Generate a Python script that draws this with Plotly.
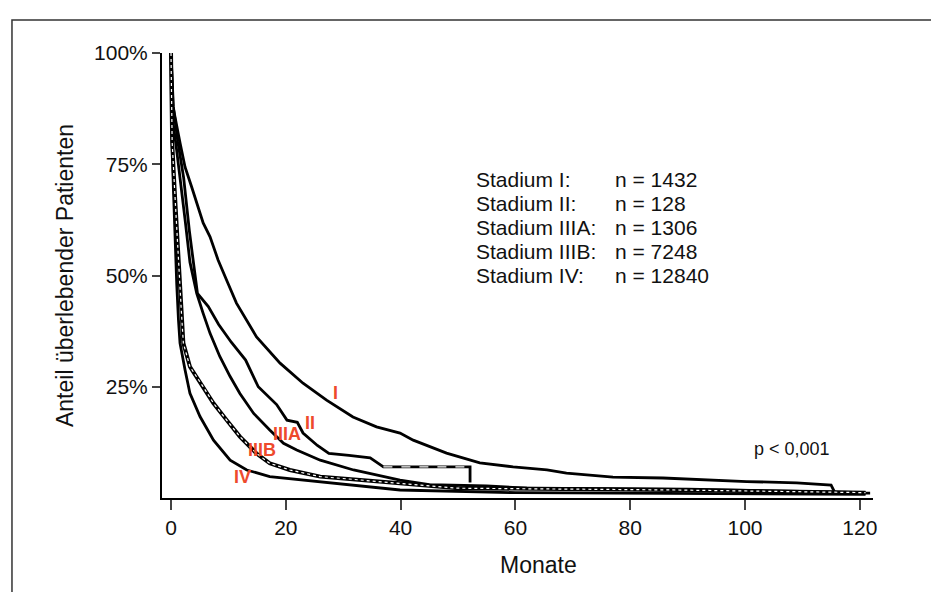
import plotly.graph_objects as go

# Kaplan-Meier Kurven (Monate, Anteil)
monate_I = [0, 0.35, 1.57, 2.44, 3.6, 4.7, 5.6, 6.8, 8.2, 9.9, 11.4, 14.9, 19.0, 23.0, 27.1, 31.7,
            35.8, 39.9, 42.2, 48.0, 53.8, 59.6, 65.5, 68.9, 77.0, 85.7, 94.4, 100.3, 109.0, 115.0,
            115.7, 121.8]
anteil_I = [1.0, 0.879, 0.798, 0.744, 0.699, 0.654, 0.618, 0.587, 0.535, 0.483, 0.438, 0.362, 0.303,
            0.258, 0.220, 0.182, 0.160, 0.146, 0.130, 0.101, 0.079, 0.070, 0.063, 0.056, 0.047, 0.045,
            0.040, 0.037, 0.034, 0.029, 0.011, 0.011]

monate_II = [0, 0.4, 1.2, 2.2, 3.2, 4.6, 6.5, 8.3, 10.5, 13.0, 15.2, 18.4, 20.2, 22.0, 23.0, 25.5,
             27.5, 31.0, 34.7, 37.0, 52.1, 52.1]
anteil_II = [1.0, 0.88, 0.80, 0.72, 0.60, 0.46, 0.43, 0.39, 0.35, 0.31, 0.25, 0.21, 0.175, 0.17,
             0.146, 0.118, 0.10, 0.096, 0.09, 0.07, 0.07, 0.035]

monate_IIIA = [0, 0.3, 1.0, 1.8, 2.5, 3.3, 4.48, 5.6, 6.8, 8.5, 10.3, 12.0, 14.4, 17.2, 19.6, 21.9,
               26.0, 31.8, 39.9, 45.0, 55.0, 62.0, 90.0, 121.0]
anteil_IIIA = [1.0, 0.85, 0.78, 0.70, 0.62, 0.53, 0.46, 0.415, 0.37, 0.318, 0.273, 0.235, 0.19, 0.153,
               0.123, 0.108, 0.085, 0.063, 0.04, 0.03, 0.027, 0.022, 0.02, 0.012]

monate_IIIB = [0, 0.2, 0.6, 1.0, 1.5, 1.8, 2.15, 3.3, 5.6, 7.4, 9.7, 12.0, 14.9, 17.2, 20.7, 26.0,
               39.9, 50.0, 88.0, 121.0]
anteil_IIIB = [1.0, 0.80, 0.70, 0.60, 0.50, 0.42, 0.348, 0.295, 0.25, 0.213, 0.175, 0.138, 0.10,
               0.078, 0.063, 0.048, 0.033, 0.022, 0.018, 0.012]

monate_IV = [0, 0.1, 0.4, 0.7, 1.0, 1.3, 1.57, 2.44, 3.3, 5.05, 7.4, 10.3, 13.2, 17.2, 23.0, 39.9,
             60.0, 121.0]
anteil_IV = [1.0, 0.85, 0.70, 0.58, 0.48, 0.40, 0.348, 0.288, 0.235, 0.183, 0.13, 0.085, 0.063,
             0.048, 0.04, 0.018, 0.012, 0.008]

stadien = ["Stadium I:", "Stadium II:", "Stadium IIIA:", "Stadium IIIB:", "Stadium IV:"]
fallzahlen = ["n = 1432", "n = 128", "n = 1306", "n = 7248", "n = 12840"]

x_ticks = [0, 20, 40, 60, 80, 100, 120]
y_ticks = [0.25, 0.5, 0.75, 1.0]
y_ticklabels = ["25%", "50%", "75%", "100%"]

FONT = "Liberation Sans, Arial, sans-serif"
ROT = "#ee4a2c"

fig = go.Figure()

kurven = [(monate_I, anteil_I), (monate_II, anteil_II), (monate_IIIA, anteil_IIIA),
          (monate_IV, anteil_IV)]
for mx, ay in kurven:
    fig.add_trace(go.Scatter(x=mx, y=ay, mode="lines", line=dict(color="black", width=2.8),
                             showlegend=False, hoverinfo="skip"))

# zensierte Abschnitte: schwarz mit hellen Punkten
fig.add_trace(go.Scatter(x=monate_IIIB, y=anteil_IIIB, mode="lines",
                         line=dict(color="black", width=4),
                         showlegend=False, hoverinfo="skip"))
fig.add_trace(go.Scatter(x=monate_IIIB, y=anteil_IIIB, mode="lines",
                         line=dict(color="white", width=1.2, dash="dot"),
                         showlegend=False, hoverinfo="skip"))
fig.add_trace(go.Scatter(x=monate_II[-3:-1], y=anteil_II[-3:-1], mode="lines",
                         line=dict(color="white", width=1.2, dash="dash"),
                         showlegend=False, hoverinfo="skip"))

# Beschriftung der Kurven
etiketten = [("I", 28.6, 0.236), ("II", 24.2, 0.169), ("IIIA", 20.2, 0.144),
             ("IIIB", 15.9, 0.108), ("IV", 12.5, 0.047)]
for txt, ex, ey in etiketten:
    fig.add_annotation(x=ex, y=ey, text="<b>" + txt + "</b>", showarrow=False,
                       font=dict(family=FONT, size=18, color=ROT))

zeilen_y = [0.715, 0.661, 0.607, 0.553, 0.499]
for i in range(len(stadien)):
    fig.add_annotation(x=52.8, y=zeilen_y[i], text=stadien[i], showarrow=False, xanchor="left",
                       font=dict(family=FONT, size=21, color="#111"))
    fig.add_annotation(x=77.0, y=zeilen_y[i], text=fallzahlen[i], showarrow=False, xanchor="left",
                       font=dict(family=FONT, size=21, color="#111"))

fig.add_annotation(x=101.2, y=0.11, text="p < 0,001", showarrow=False, xanchor="left",
                   font=dict(family=FONT, size=18, color="#111"))

# x-Achsentitel (im Original leicht rechts der Mitte)
fig.add_annotation(x=0.529, y=-0.151, xref="paper", yref="paper", text="Monate", showarrow=False,
                   xanchor="center", yanchor="middle",
                   font=dict(family=FONT, size=23, color="#111"))

# Rahmen um die Abbildung
fig.add_shape(type="rect", xref="paper", yref="paper", x0=-0.211, x1=1.087, y0=-0.23, y1=1.074,
              line=dict(color="#333", width=1.5), layer="below")

fig.update_layout(
    width=931, height=584,
    margin=dict(l=154, r=66, t=45, b=94),
    paper_bgcolor="white", plot_bgcolor="white",
    font=dict(family=FONT, size=21, color="#111"),
    xaxis=dict(range=[-1.57, 122.3], tickvals=x_ticks, ticks="outside", ticklen=10, tickwidth=2,
               showline=True, linewidth=2, linecolor="black", showgrid=False, zeroline=False,
               tickfont=dict(size=21)),
    yaxis=dict(range=[0, 1.0], tickvals=y_ticks, ticktext=y_ticklabels, ticks="outside", ticklen=8,
               tickwidth=2, showline=True, linewidth=2, linecolor="black", showgrid=False,
               zeroline=False, title=dict(text="Anteil überlebender Patienten", font=dict(size=23),
                                          standoff=14),
               tickfont=dict(size=21)),
)

fig.write_html("out.html")
